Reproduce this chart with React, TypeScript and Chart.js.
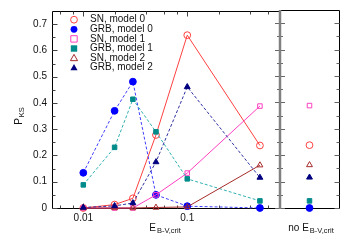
import React, { useEffect, useRef } from "react";
import { Chart, registerables } from "chart.js";
Chart.register(...registerables);

const FONT = "'Liberation Sans', Arial, sans-serif";

const xValues = [0.01, 0.02, 0.03, 0.05, 0.1, 0.5];
const seriesNames = ["SN, model 0", "GRB, model 0", "SN, model 1", "GRB, model 1", "SN, model 2", "GRB, model 2"];
const sn0 = [0.0, 0.013, 0.037, 0.278, 0.658, 0.238];
const grb0 = [0.134, 0.37, 0.481, 0.05, 0.007, 0.0];
const sn1 = [0.0, 0.0, 0.0, 0.05, 0.133, 0.388];
const grb1 = [0.088, 0.231, 0.414, 0.29, 0.111, 0.027];
const sn2 = [0.0, 0.0, 0.0, 0.002, 0.004, 0.163];
const grb2 = [0.002, 0.008, 0.019, 0.175, 0.461, 0.116];
const noCutValues = [0.238, 0.0, 0.388, 0.027, 0.163, 0.116];
const yTickLabels = [0, 0.1, 0.2, 0.3, 0.4, 0.5, 0.6, 0.7];
const yMinorTicks = [0.05, 0.15, 0.25, 0.35, 0.45, 0.55, 0.65];
const xTickLabels = [0.01, 0.1];
const xMinorTicks = [0.006, 0.008, 0.02, 0.04, 0.06, 0.08, 0.2, 0.4, 0.6];

const seriesData = [sn0, grb0, sn1, grb1, sn2, grb2];
const colors = ["#ff4040", "#0000ff", "#ff40c0", "#008b8b", "#a52a2a", "#000080"];
const lineColors = ["#ff4040", "#4040ff", "#ff40c0", "#30b0b0", "#a52a2a", "#3030a0"];
const styles = ["circle", "circle", "rect", "rect", "triangle", "triangle"];
const filled = [false, true, false, true, false, true];
const dashed = [false, true, false, true, false, true];

function drawMarker(ctx: CanvasRenderingContext2D, style: string, x: number, y: number, r: number, color: string, fill: boolean) {
  ctx.save();
  ctx.beginPath();
  if (style === "circle") {
    ctx.arc(x, y, r, 0, Math.PI * 2);
  } else if (style === "rect") {
    ctx.rect(x - r, y - r, 2 * r, 2 * r);
  } else {
    ctx.moveTo(x, y - r * 1.1);
    ctx.lineTo(x + r * 1.05, y + r * 0.75);
    ctx.lineTo(x - r * 1.05, y + r * 0.75);
    ctx.closePath();
  }
  ctx.lineWidth = 1;
  if (fill) {
    ctx.fillStyle = color;
    ctx.fill();
  } else {
    ctx.strokeStyle = color;
    ctx.stroke();
  }
  ctx.restore();
}

function drawSub(ctx: CanvasRenderingContext2D, pre: string, main: string, sub: string, cx: number, cy: number) {
  ctx.save();
  ctx.fillStyle = "#111";
  ctx.textBaseline = "middle";
  ctx.textAlign = "left";
  const mainFont = `10px ${FONT}`;
  const subFont = `7.5px ${FONT}`;
  ctx.font = mainFont;
  const wPre = ctx.measureText(pre).width;
  const wMain = ctx.measureText(main).width;
  ctx.font = subFont;
  const wSub = ctx.measureText(sub).width;
  const total = wPre + wMain + wSub + 1;
  let x = cx - total / 2;
  ctx.font = mainFont;
  ctx.fillText(pre + main, x, cy);
  x += wPre + wMain + 1;
  ctx.font = subFont;
  ctx.fillText(sub, x, cy + 3);
  ctx.restore();
}

function makeDatasets(values: number[][], xs: (number | string)[], showLine: boolean) {
  return values.map((vals, i) => ({
    label: seriesNames[i],
    data: vals.map((v, j) => ({ x: xs[j], y: v })),
    borderColor: lineColors[i],
    borderWidth: 1,
    borderDash: dashed[i] ? [3, 2] : [],
    pointStyle: styles[i],
    pointRadius: styles[i] === "rect" ? 3.2 : 3.4,
    pointBorderColor: colors[i],
    pointBackgroundColor: filled[i] ? colors[i] : "rgba(0,0,0,0)",
    pointBorderWidth: 1,
    showLine,
    fill: false,
    tension: 0,
    clip: false as any,
    order: 6 - i,
  }));
}

const leftFramePlugin = {
  id: "leftFrame",
  beforeDatasetsDraw(chart: any) {
    const { ctx, chartArea: a, scales } = chart;
    const L = Math.round(a.left) + 0.5, R = Math.round(a.right), T = Math.round(a.top) + 0.5, B = Math.round(a.bottom) + 0.5;
    ctx.save();
    ctx.strokeStyle = "#000";
    ctx.lineWidth = 1;
    ctx.beginPath();
    ctx.moveTo(R, T); ctx.lineTo(L, T); ctx.lineTo(L, B); ctx.lineTo(R, B);
    ctx.stroke();
    ctx.strokeStyle = "#444";
    ctx.beginPath();
    yTickLabels.forEach((v) => {
      const y = Math.round(scales.y.getPixelForValue(v)) + 0.5;
      ctx.moveTo(L, y); ctx.lineTo(L + 5, y);
    });
    yMinorTicks.forEach((v) => {
      const y = Math.round(scales.y.getPixelForValue(v)) + 0.5;
      ctx.moveTo(L, y); ctx.lineTo(L + 3, y);
    });
    xTickLabels.forEach((v) => {
      const x = Math.round(scales.x.getPixelForValue(v)) + 0.5;
      ctx.moveTo(x, T); ctx.lineTo(x, T + 5);
      ctx.moveTo(x, B); ctx.lineTo(x, B - 5);
    });
    xMinorTicks.forEach((v) => {
      const x = Math.round(scales.x.getPixelForValue(v)) + 0.5;
      ctx.moveTo(x, T); ctx.lineTo(x, T + 3);
      ctx.moveTo(x, B); ctx.lineTo(x, B - 3);
    });
    ctx.stroke();
    ctx.restore();
  },
  afterDraw(chart: any) {
    const { ctx, chartArea: a } = chart;
    ctx.save();
    seriesNames.forEach((name, i) => {
      const y = a.top + 8.7 + i * 9.6;
      drawMarker(ctx, styles[i], 74, y, styles[i] === "rect" ? 3.2 : 3.4, colors[i], filled[i]);
      ctx.fillStyle = "#111";
      ctx.font = `10px ${FONT}`;
      ctx.textAlign = "left";
      ctx.textBaseline = "middle";
      ctx.fillText(name, 90, y);
    });
    ctx.restore();
    drawSub(ctx, "", "E", "B-V,crit", 165, 228);
    ctx.save();
    ctx.translate(19, 116);
    ctx.rotate(-Math.PI / 2);
    drawSub(ctx, "", "P", "KS", 0, 0);
    ctx.restore();
  },
};

const rightFramePlugin = {
  id: "rightFrame",
  beforeDatasetsDraw(chart: any) {
    const { ctx, chartArea: a, scales } = chart;
    const L = Math.round(a.left), R = Math.round(a.right) + 0.5, T = Math.round(a.top) + 0.5, B = Math.round(a.bottom) + 0.5;
    ctx.save();
    ctx.strokeStyle = "#000";
    ctx.lineWidth = 1;
    ctx.beginPath();
    ctx.moveTo(L, T); ctx.lineTo(R, T); ctx.lineTo(R, B); ctx.lineTo(L, B);
    ctx.stroke();
    ctx.strokeStyle = "#666";
    ctx.beginPath();
    yTickLabels.forEach((v) => {
      const y = Math.round(scales.y.getPixelForValue(v)) + 0.5;
      ctx.moveTo(R, y); ctx.lineTo(R - 5, y);
      ctx.moveTo(L - 5, y); ctx.lineTo(L + 5, y);
    });
    yMinorTicks.forEach((v) => {
      const y = Math.round(scales.y.getPixelForValue(v)) + 0.5;
      ctx.moveTo(R, y); ctx.lineTo(R - 3, y);
      ctx.moveTo(L - 3, y); ctx.lineTo(L + 3, y);
    });
    ctx.stroke();
    ctx.strokeStyle = "#808080";
    ctx.lineWidth = 2.5;
    ctx.beginPath();
    ctx.moveTo(L, a.top); ctx.lineTo(L, a.bottom + 1);
    ctx.stroke();
    ctx.restore();
  },
  afterDraw(chart: any) {
    const { ctx } = chart;
    drawSub(ctx, "no ", "E", "B-V,crit", 311, 228);
  },
};

export default function App() {
  const leftRef = useRef<HTMLCanvasElement>(null);
  const rightRef = useRef<HTMLCanvasElement>(null);

  useEffect(() => {
    document.body.style.margin = "0";
    Chart.defaults.font.family = FONT;
    const left = new Chart(leftRef.current as HTMLCanvasElement, {
      type: "line",
      data: { datasets: makeDatasets(seriesData, xValues, true) as any },
      options: {
        responsive: false,
        animation: false,
        layout: { padding: { left: 0, right: 70, top: 10, bottom: 0 } },
        plugins: { legend: { display: false }, tooltip: { enabled: false } },
        scales: {
          x: {
            type: "logarithmic",
            min: 0.005,
            max: 0.78,
            grid: { display: false, drawTicks: false },
            border: { display: false },
            afterBuildTicks: (s: any) => {
              s.ticks = xTickLabels.map((v) => ({ value: v }));
            },
            afterFit: (s: any) => {
              s.height = 37;
            },
            ticks: {
              autoSkip: false,
              maxRotation: 0,
              padding: 4,
              color: "#111",
              font: { size: 10, family: FONT },
              callback: (v: any) => String(v),
            },
          },
          y: {
            type: "linear",
            min: 0,
            max: 0.75,
            grid: { display: false, drawTicks: false },
            border: { display: false },
            afterBuildTicks: (s: any) => {
              s.ticks = yTickLabels.map((v) => ({ value: v }));
            },
            afterFit: (s: any) => {
              s.width = 52;
            },
            ticks: {
              padding: 5,
              color: "#111",
              font: { size: 10, family: FONT },
              callback: (v: any) => (v === 0 ? "0" : Number(v).toFixed(1)),
            },
          },
        },
      },
      plugins: [leftFramePlugin],
    });
    const right = new Chart(rightRef.current as HTMLCanvasElement, {
      type: "line",
      data: {
        labels: ["no cut"],
        datasets: makeDatasets(noCutValues.map((v) => [v]), ["no cut"], false) as any,
      },
      options: {
        responsive: false,
        animation: false,
        layout: { padding: { left: 280, right: 11, top: 10, bottom: 37 } },
        plugins: { legend: { display: false }, tooltip: { enabled: false } },
        scales: {
          x: { type: "category", display: false, offset: true },
          y: { type: "linear", min: 0, max: 0.75, display: false },
        },
      },
      plugins: [rightFramePlugin],
    });
    return () => {
      left.destroy();
      right.destroy();
    };
  }, []);

  return (
    <div style={{ position: "relative", width: 350, height: 245, background: "#fff" }}>
      <canvas ref={leftRef} width={350} height={245} style={{ position: "absolute", left: 0, top: 0 }} />
      <canvas ref={rightRef} width={350} height={245} style={{ position: "absolute", left: 0, top: 0 }} />
    </div>
  );
}
